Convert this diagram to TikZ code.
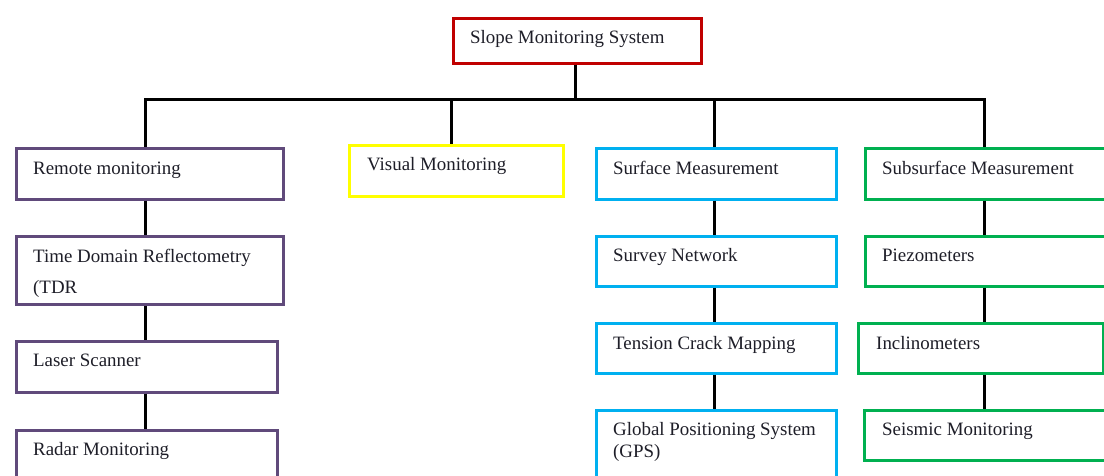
\documentclass[tikz,border=0pt]{standalone}
\usepackage{fontspec}
\setmainfont{Liberation Serif}
\definecolor{cred}{HTML}{C00000}
\definecolor{cpurple}{HTML}{604A7B}
\definecolor{cyellow}{HTML}{FFFF00}
\definecolor{ccyan}{HTML}{00B0F0}
\definecolor{cgreen}{HTML}{00B050}
\definecolor{ctext}{HTML}{1E1E28}
\begin{document}
\begin{tikzpicture}[x=1pt,y=-1pt,
  boxnode/.style={line width=3pt, inner sep=0pt, anchor=north west, fill=white},
  lbl/.style={anchor=base west, inner sep=0pt, text=ctext, font=\fontsize{18.9}{22}\selectfont},
  conn/.style={line width=3pt, black}]
\clip (0,0) rectangle (1104,475);
\fill[white] (0,0) rectangle (1104,475);
% boxes: north-west at (L+1.5, T+1.5), size (R-L-3) x (B-T-3)
\node[boxnode, draw=cred, minimum width=248pt, minimum height=45pt] (top) at (451.5,16.5) {};
\node[boxnode, draw=cpurple, minimum width=267pt, minimum height=51pt] (rm) at (14.5,146.5) {};
\node[boxnode, draw=cpurple, minimum width=267pt, minimum height=68pt] (tdr) at (14.5,234.5) {};
\node[boxnode, draw=cpurple, minimum width=261pt, minimum height=51pt] (ls) at (14.5,339.5) {};
\node[boxnode, draw=cpurple, minimum width=261pt, minimum height=60pt] (rad) at (14.5,428.5) {};
\node[boxnode, draw=cyellow, minimum width=214pt, minimum height=51pt] (vis) at (347.5,143.5) {};
\node[boxnode, draw=ccyan, minimum width=240pt, minimum height=51pt] (sfm) at (594.5,146.5) {};
\node[boxnode, draw=ccyan, minimum width=240pt, minimum height=50pt] (svn) at (594.5,234.5) {};
\node[boxnode, draw=ccyan, minimum width=240pt, minimum height=50pt] (tcm) at (594.5,321.5) {};
\node[boxnode, draw=ccyan, minimum width=240pt, minimum height=70pt] (gps) at (594.5,408.5) {};
\node[boxnode, draw=cgreen, minimum width=250pt, minimum height=51pt] (sub) at (863.5,146.5) {};
\node[boxnode, draw=cgreen, minimum width=250pt, minimum height=50pt] (pz) at (863.5,234.5) {};
\node[boxnode, draw=cgreen, minimum width=245pt, minimum height=50pt] (inc) at (856.5,321.5) {};
\node[boxnode, draw=cgreen, minimum width=250pt, minimum height=50pt] (sei) at (862.5,408.5) {};
% junction coordinates on the bus
\coordinate (j1) at (145,99);
\coordinate (j2) at (451,99);
\coordinate (j0) at (575,99);
\coordinate (j3) at (714,99);
\coordinate (j4) at (984,99);
% connectors
\draw[conn] (top.south -| j0) -- (j0);
\draw[conn] (rm.north -| j1) -- (j1) -- (j4) -- (sub.north -| j4);
\draw[conn] (j2) -- (vis.north -| j2);
\draw[conn] (j3) -- (sfm.north -| j3);
\draw[conn] (rm.south -| j1) -- (tdr.north -| j1);
\draw[conn] (tdr.south -| j1) -- (ls.north -| j1);
\draw[conn] (ls.south -| j1) -- (rad.north -| j1);
\draw[conn] (sfm.south -| j3) -- (svn.north -| j3);
\draw[conn] (svn.south -| j3) -- (tcm.north -| j3);
\draw[conn] (tcm.south -| j3) -- (gps.north -| j3);
\draw[conn] (sub.south -| j4) -- (pz.north -| j4);
\draw[conn] (pz.south -| j4) -- (inc.north -| j4);
\draw[conn] (inc.south -| j4) -- (sei.north -| j4);
% labels
\node[lbl] (ttop) at (470,43) {Slope Monitoring System};
\node[lbl] (trm) at (33,174) {Remote monitoring};
\node[lbl] (ttdr1) at (33,262) {Time Domain Reflectometry};
\node[lbl] (ttdr2) at (33,293) {(TDR};
\node[lbl] (tls) at (33,366) {Laser Scanner};
\node[lbl] (trad) at (33,455) {Radar Monitoring};
\node[lbl] (tvis) at (367,170) {Visual Monitoring};
\node[lbl] (tsfm) at (613,174) {Surface Measurement};
\node[lbl] (tsvn) at (613,261) {Survey Network};
\node[lbl] (ttcm) at (613,349) {Tension Crack Mapping};
\node[lbl] (tgps1) at (613,435) {Global Positioning System};
\node[lbl] (tgps2) at (613,457) {(GPS)};
\node[lbl] (tsub) at (882,174) {Subsurface Measurement};
\node[lbl] (tpz) at (882,261) {Piezometers};
\node[lbl] (tinc) at (876,349) {Inclinometers};
\node[lbl] (tsei) at (882,435) {Seismic Monitoring};
\end{tikzpicture}
\end{document}
